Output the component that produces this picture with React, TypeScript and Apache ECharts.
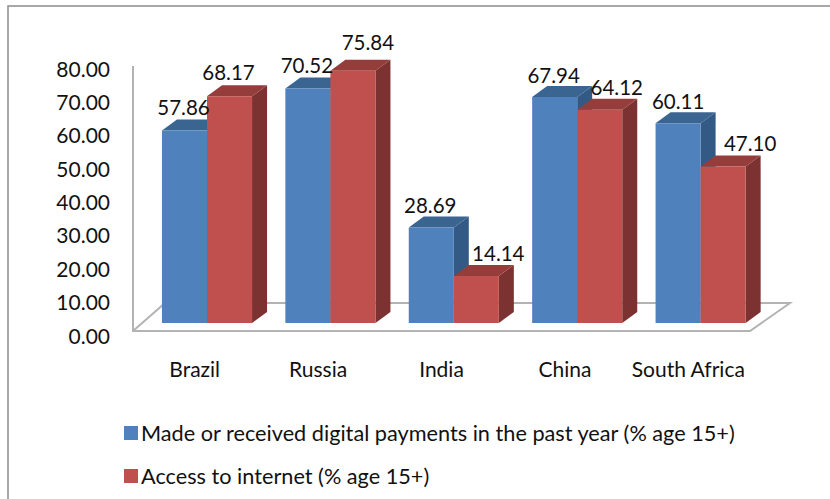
import React, { useEffect, useRef } from "react";
import * as echarts from "echarts";

const categories = ["Brazil", "Russia", "India", "China", "South Africa"];
const digitalPayments = [57.86, 70.52, 28.69, 67.94, 60.11];
const internetAccess = [68.17, 75.84, 14.14, 64.12, 47.1];
const yTicks = { min: 0, max: 80, interval: 10 };

// Hand placement of the value labels, relative to the centre of the bar's front face.
const paymentLabelShift = [[-1, -24], [-1, -24], [-1, -23], [-1, -22], [0, -22]];
const internetLabelShift = [[-1, -24], [15, -29], [22, -23], [17, -23], [27, -23]];

const FONT = "Lato, Carlito, Calibri, sans-serif";
const DEPTH_X = 15;
const DEPTH_Y = 11;

type Palette = { front: string; top: string; side: string };
const BLUE: Palette = { front: "#4f81bd", top: "#3b6591", side: "#335a84" };
const RED: Palette = { front: "#c0504d", top: "#943d3b", side: "#7b3230" };

// Draws one extruded column: front face, lid, right-hand side and its value label.
function columnRenderer(palette: Palette, offset: number, shifts: number[][]) {
  return (params: any, api: any) => {
    const index = api.value(0);
    const value = api.value(1);
    const [cx, topY] = api.coord([index, value]);
    const [, baseY] = api.coord([index, 0]);
    const width = api.size([1, 0])[0] * 0.365;
    const x0 = cx + offset * width;
    const x1 = x0 + width;
    const [dx, dy] = shifts[params.dataIndex];
    return {
      type: "group",
      children: [
        {
          type: "polygon",
          shape: {
            points: [
              [x1, topY],
              [x1 + DEPTH_X, topY - DEPTH_Y],
              [x1 + DEPTH_X, baseY - DEPTH_Y],
              [x1, baseY],
            ],
          },
          style: { fill: palette.side },
        },
        {
          type: "polygon",
          shape: {
            points: [
              [x0, topY],
              [x0 + DEPTH_X, topY - DEPTH_Y],
              [x1 + DEPTH_X, topY - DEPTH_Y],
              [x1, topY],
            ],
          },
          style: { fill: palette.top },
        },
        {
          type: "rect",
          shape: { x: x0, y: topY, width, height: baseY - topY },
          style: { fill: palette.front },
        },
        {
          type: "text",
          z2: 100,
          style: {
            x: x0 + width / 2 + dx,
            y: topY + dy,
            text: value.toFixed(2),
            fill: "#111",
            font: `20.5px ${FONT}`,
            align: "center",
            verticalAlign: "middle",
          },
        },
      ],
    };
  };
}

const toPoints = (values: number[]) => values.map((v, i) => [categories[i], v]);

export default function App() {
  const ref = useRef<HTMLDivElement>(null);

  useEffect(() => {
    const chart = echarts.init(ref.current!, undefined, { renderer: "svg" });
    chart.setOption({
      animation: false,
      backgroundColor: "#fff",
      textStyle: { fontFamily: FONT },
      grid: [
        // Axis labels sit on the front edge of the floor.
        { left: 133, width: 617, top: 68, bottom: 164 },
        // Columns stand slightly inside the floor.
        { left: 145.3, width: 617, top: 57, bottom: 176 },
      ],
      xAxis: [
        {
          gridIndex: 0,
          type: "category",
          data: categories,
          axisLine: { show: false },
          axisTick: { show: false },
          axisLabel: { color: "#111", fontSize: 21, margin: 23, interval: 0, fontFamily: FONT },
        },
        { gridIndex: 1, type: "category", data: categories, show: false },
      ],
      yAxis: [
        {
          gridIndex: 0,
          type: "value",
          ...yTicks,
          axisLine: { show: false },
          axisTick: { show: false },
          splitLine: { show: false },
          axisLabel: {
            color: "#111",
            fontSize: 21,
            margin: 23,
            fontFamily: FONT,
            formatter: (v: number) => v.toFixed(2),
          },
        },
        { gridIndex: 1, type: "value", ...yTicks, show: false },
      ],
      legend: {
        orient: "vertical",
        left: 119,
        top: 417,
        itemWidth: 14,
        itemHeight: 14,
        itemGap: 21,
        itemStyle: { borderWidth: 0 },
        textStyle: { color: "#111", fontSize: 21.7, fontFamily: FONT, padding: [0, 0, 0, -2] },
        data: [
          { name: "Made or received digital payments in the past year (% age 15+)", icon: "rect", itemStyle: { color: BLUE.front } },
          { name: "Access to internet (% age 15+)", icon: "rect", itemStyle: { color: RED.front } },
        ],
      },
      series: [
        {
          type: "custom",
          name: "Made or received digital payments in the past year (% age 15+)",
          xAxisIndex: 1,
          yAxisIndex: 1,
          encode: { x: 0, y: 1 },
          clip: false,
          itemStyle: { color: BLUE.front },
          renderItem: columnRenderer(BLUE, -1, paymentLabelShift),
          data: toPoints(digitalPayments),
        },
        {
          type: "custom",
          name: "Access to internet (% age 15+)",
          xAxisIndex: 1,
          yAxisIndex: 1,
          encode: { x: 0, y: 1 },
          clip: false,
          itemStyle: { color: RED.front },
          renderItem: columnRenderer(RED, 0, internetLabelShift),
          data: toPoints(internetAccess),
        },
      ],
      graphic: [
        {
          type: "rect",
          silent: true,
          z: -10,
          shape: { x: 8, y: 6, width: 900, height: 600 },
          style: { fill: "none", stroke: "#8c8c8c", lineWidth: 1.5 },
        },
        {
          type: "polyline",
          silent: true,
          z: -5,
          shape: { points: [[133, 66], [133, 331], [750, 331], [790, 303], [165, 303], [133, 331]] },
          style: { fill: "none", stroke: "#b3b3b3", lineWidth: 2 },
        },
      ],
    });
    return () => chart.dispose();
  }, []);

  return <div ref={ref} style={{ position: "fixed", left: 0, top: 0, width: 830, height: 499 }} />;
}
